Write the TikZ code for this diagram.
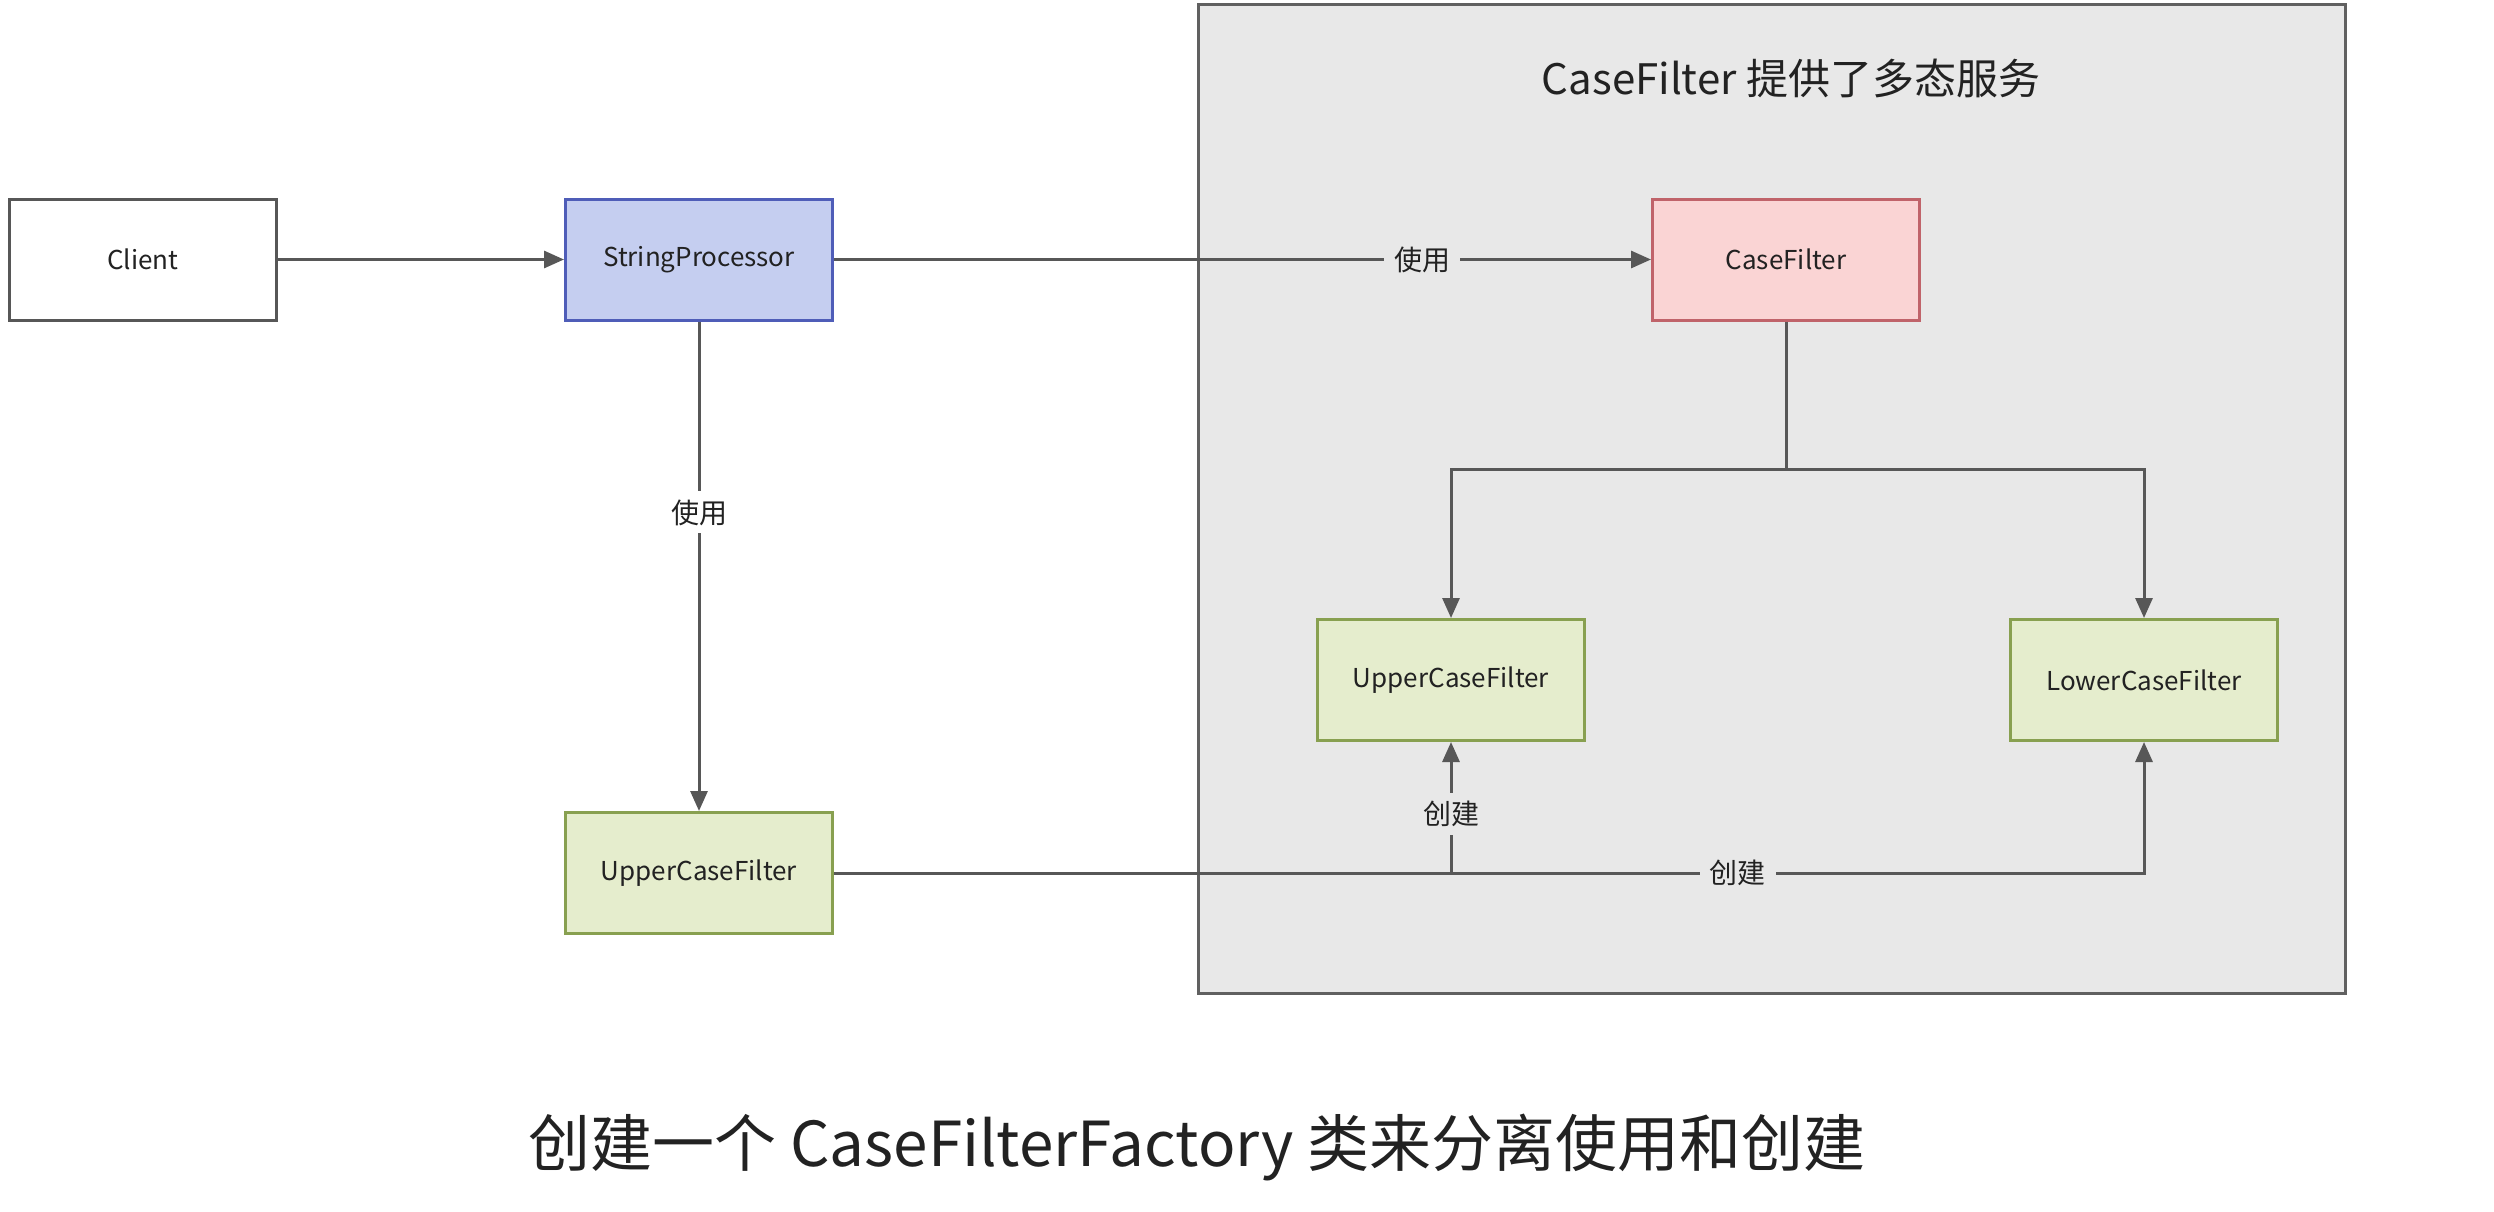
\documentclass[tikz,border=0pt]{standalone}
\usepackage{fontspec}
\setmainfont{Noto Sans CJK SC}
\usetikzlibrary{arrows.meta}
\definecolor{linec}{HTML}{575757}
\definecolor{txtc}{HTML}{222222}
\definecolor{grpfill}{HTML}{E8E8E8}
\definecolor{grpline}{HTML}{606060}
\definecolor{spfill}{HTML}{C5CEF0}
\definecolor{spline}{HTML}{4F5DB8}
\definecolor{cffill}{HTML}{FAD4D4}
\definecolor{cfline}{HTML}{C0636A}
\definecolor{gfill}{HTML}{E5EDCD}
\definecolor{gline}{HTML}{88A050}
\tikzset{
  box/.style={draw, line width=3pt, minimum width=267pt, minimum height=121pt,
    inner sep=0pt, text=txtc, font=\fontsize{26}{30}\selectfont},
  plainbox/.style={box, draw=linec, fill=white},
  spbox/.style={box, draw=spline, fill=spfill},
  cfbox/.style={box, draw=cfline, fill=cffill},
  gbox/.style={box, draw=gline, fill=gfill},
  conn/.style={draw=linec, line width=3pt, -{Triangle[length=20pt,width=17pt]}},
  plainline/.style={draw=linec, line width=3pt},
  lbl/.style={font=\fontsize{28}{32}\selectfont, text=txtc, inner xsep=10pt, inner ysep=8pt},
}
\begin{document}
\begin{tikzpicture}[x=1pt,y=-1pt]
\useasboundingbox (0,0) rectangle (2494,1212);
\node[draw=grpline, fill=grpfill, line width=3pt, minimum width=1147pt, minimum height=988pt, inner sep=0pt] (grp) at (1771.5,499) {};
\node[text=txtc, font=\fontsize{42}{48}\selectfont] (title) at (1791,78) {CaseFilter 提供了多态服务};
\node[plainbox] (client) at (143,259.5) {Client};
\node[spbox] (sp) at (699,259.5) {StringProcessor};
\node[cfbox] (cf) at (1786,259.5) {CaseFilter};
\node[gbox] (ucf) at (1451,680) {UpperCaseFilter};
\node[gbox] (lcf) at (2144,680) {LowerCaseFilter};
\node[gbox] (ucf2) at (699,873) {UpperCaseFilter};
\coordinate (br) at (1786,469);
\coordinate (jn) at (1451,873);
\draw[conn] (client) -- (sp);
\draw[conn] (sp) -- node[lbl, fill=grpfill, pos=0.72] {使用} (cf);
\draw[conn] (sp) -- node[lbl, fill=white, pos=0.39] {使用} (ucf2);
\draw[plainline] (cf) -- (br);
\draw[conn] (br) -| (ucf);
\draw[conn] (br) -| (lcf);
\draw[conn] (ucf2) -| node[lbl, fill=grpfill, pos=0.345] {创建} (lcf);
\draw[conn] (jn) -- node[lbl, fill=grpfill, pos=0.45] {创建} (ucf);
\node[text=txtc, font=\fontsize{62}{70}\selectfont] (caption) at (1197,1147) {创建一个 CaseFilterFactory 类来分离使用和创建};
\end{tikzpicture}
\end{document}
